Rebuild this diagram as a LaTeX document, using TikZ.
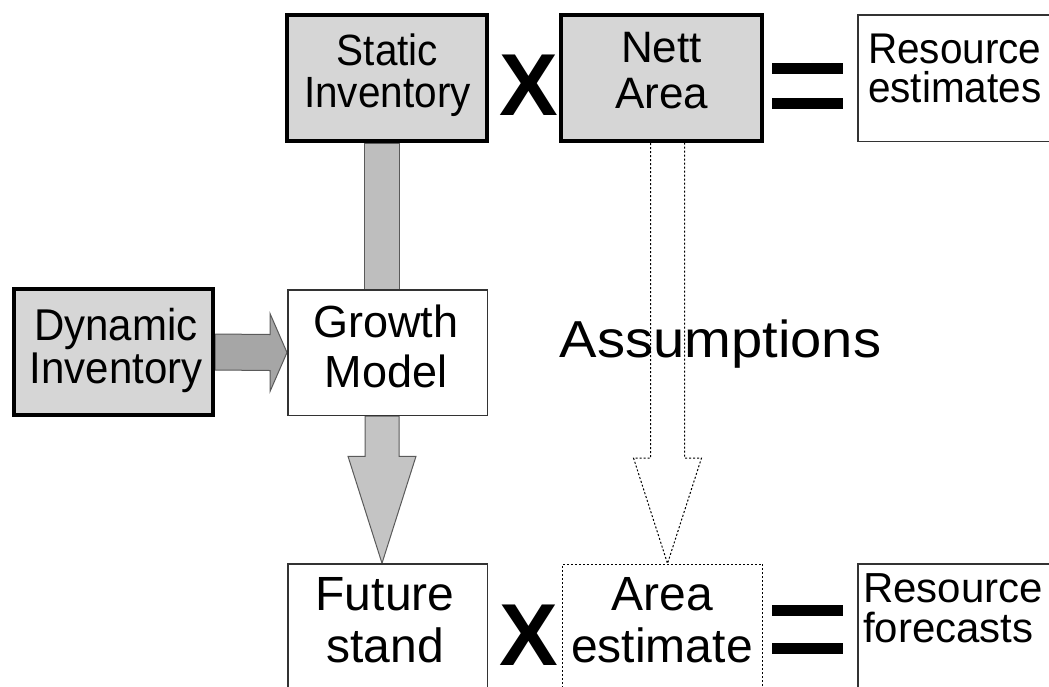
\documentclass[tikz,border=0pt]{standalone}
\usepackage{fontspec}
\setmainfont{Liberation Sans}
\usetikzlibrary{calc}

\pgfdeclarelayer{background}
\pgfsetlayers{background,main}

% two-line labels with an exact distance between baselines;
% #4 stretches the lettering vertically
\newcommand\boxlabel[4]{\scalebox{1}[#4]{\vtop{\baselineskip=#3\lineskiplimit=-\maxdimen
  \halign{\hfil##\hfil\cr #1\cr #2\cr}}}}
\newcommand\boxlabelleft[4]{\scalebox{1}[#4]{\vtop{\baselineskip=#3\lineskiplimit=-\maxdimen
  \halign{##\hfil\cr #1\cr #2\cr}}}}

\definecolor{boxgray}{HTML}{D6D6D6}
\definecolor{shaftgray}{HTML}{BEBEBE}
\definecolor{dyngray}{HTML}{A6A6A6}
\definecolor{downgray}{HTML}{C4C4C4}
\definecolor{edgegray}{HTML}{5A5A5A}
\definecolor{thinedge}{HTML}{333333}

\tikzset{
  thickbox/.style={draw=black, line width=4pt, fill=boxgray, inner sep=0pt},
  thinbox/.style={draw=thinedge, line width=1.5pt, fill=white, inner sep=0pt},
  dotbox/.style={draw=black, line width=1pt, dash pattern=on 2pt off 2pt, fill=white, inner sep=0pt},
  lbl/.style={inner sep=0pt, font=\fontsize{#1}{#1}\selectfont},
  opsign/.style={inner sep=0pt, anchor=base, font=\fontsize{88}{88}\selectfont\bfseries},
  eqbar/.style={fill=black, draw=none, inner sep=0pt, minimum width=71pt, minimum height=11pt},
  fatarrow/.style={draw=edgegray, line width=1pt, line join=miter},
  hollowarrow/.style={draw=black, fill=white, line width=1pt, dash pattern=on 2pt off 2pt}
}

\begin{document}
\begin{tikzpicture}[x=1pt, y=-1pt]
\useasboundingbox (0,0) rectangle (1049,686);
\clip (0,0) rectangle (1049,686);

% boxes
\node[thickbox, minimum width=200pt, minimum height=126pt] (si) at (387,78) {};
\node[thickbox, minimum width=201pt, minimum height=126pt] (na) at (661.5,78) {};
\node[thinbox, minimum width=194.5pt, minimum height=126.5pt] (re) at (955,78) {};
\node[thickbox, minimum width=199pt, minimum height=126pt] (di) at (113.5,352) {};
\node[thinbox, minimum width=199.5pt, minimum height=125.5pt] (gm) at (387.5,352.5) {};
\node[thinbox, minimum width=199.5pt, minimum height=126pt] (fs) at (387.5,627) {};
\node[dotbox, minimum width=200pt, minimum height=126pt] (ae) at (662.5,627) {};
\node[thinbox, minimum width=194.5pt, minimum height=126pt] (rf) at (955,627) {};

% box texts
\node[lbl=40.5, anchor=base] (si-t) at (387.5,65) {\boxlabel{Static}{Inventory}{39.8pt}{1.08}};
\node[lbl=44, anchor=base] (na-t) at (661.5,62) {\boxlabel{Nett}{Area}{46pt}{1}};
\node[lbl=40.5, anchor=base west] (re-t) at (868,63) {\boxlabelleft{Resource}{estimates}{37.7pt}{1.06}};
\node[lbl=42, anchor=base] (di-t) at (116,340) {\boxlabel{Dynamic}{Inventory}{40.6pt}{1.06}};
\node[lbl=45, anchor=base] (gm-t) at (386,337) {\boxlabel{Growth}{Model}{50pt}{1}};
\node[lbl=48, anchor=base] (fs-t) at (385,610) {\boxlabel{Future}{stand}{52pt}{1}};
\node[lbl=48, anchor=base] (ae-t) at (662,610) {\boxlabel{Area}{estimate}{52pt}{1}};
\node[lbl=42, anchor=base west] (rf-t) at (863,602) {\boxlabelleft{Resource}{forecasts}{40pt}{1}};

% operators
\node[opsign] (x1) at (528.5,115) {X};
\node[opsign] (x2) at (529,665) {X};
\node[eqbar] (eq1a) at (807.5,68.5) {};
\node[eqbar] (eq1b) at (807.5,103) {};
\node[eqbar] (eq2a) at (807.5,610.5) {};
\node[eqbar] (eq2b) at (807.5,648) {};

% free label
\node[inner sep=0pt, anchor=base, font=\fontsize{52}{52}\selectfont] (as) at (720.5,357)
  {\scalebox{1.08}[1]{Assumptions}};

% arrows, drawn behind the boxes
\begin{pgfonlayer}{background}
  \draw[fatarrow, fill=shaftgray] ($(si.south)+(-23,0)$) rectangle ($(gm.north)+(11.5,0)$);
  \draw[fatarrow, fill=dyngray]
    ($(di.east)+(0,-18)$) -- ($(gm.west)+(-17,-18)$) -- ($(gm.west)+(-17,-39)$)
    -- (gm.west) -- ($(gm.west)+(-17,39)$) -- ($(gm.west)+(-17,18)$)
    -- ($(di.east)+(0,18)$) -- cycle;
  \draw[fatarrow, fill=downgray]
    ($(gm.south)+(-22.5,0)$) -- ($(fs.north)+(-22.5,-107)$) -- ($(fs.north)+(-39.5,-107)$)
    -- ($(fs.north)+(-5.5,0)$) -- ($(fs.north)+(28.5,-107)$) -- ($(fs.north)+(11.5,-107)$)
    -- ($(gm.south)+(11.5,0)$) -- cycle;
  \draw[hollowarrow]
    ($(na.south)+(-11,0)$) -- ($(ae.north)+(-12,-105.5)$) -- ($(ae.north)+(-29,-105.5)$)
    -- ($(ae.north)+(5,0)$) -- ($(ae.north)+(39,-105.5)$) -- ($(ae.north)+(22,-105.5)$)
    -- ($(na.south)+(23,0)$);
\end{pgfonlayer}
\end{tikzpicture}
\end{document}
